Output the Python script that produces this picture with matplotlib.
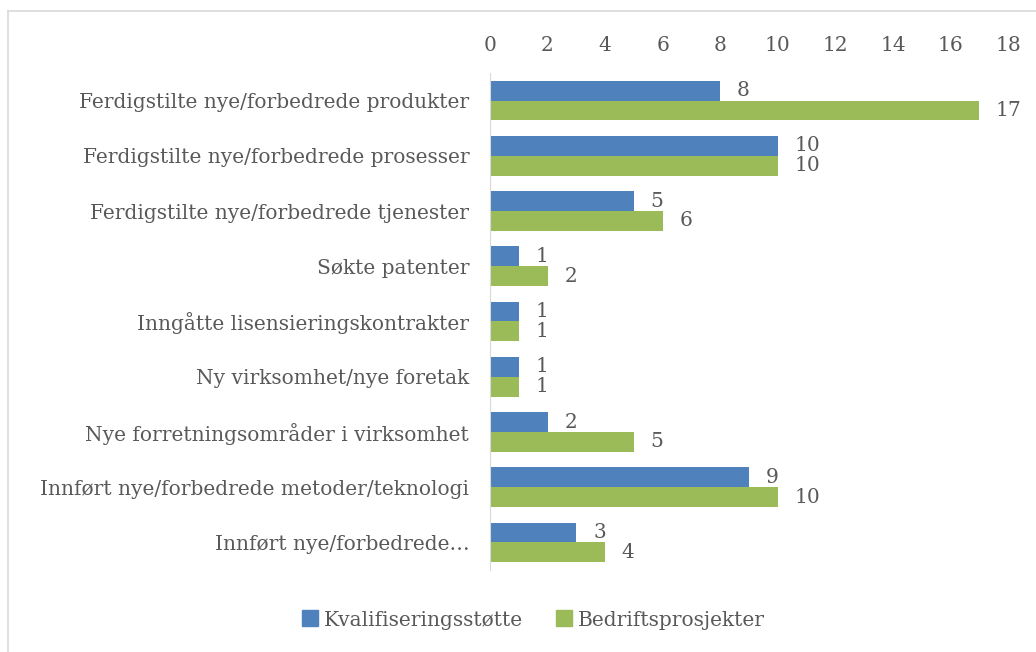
import matplotlib
matplotlib.use("Agg")
import matplotlib.pyplot as plt
from matplotlib.lines import Line2D
import numpy as np

categories = [
    "Ferdigstilte nye/forbedrede produkter",
    "Ferdigstilte nye/forbedrede prosesser",
    "Ferdigstilte nye/forbedrede tjenester",
    "Søkte patenter",
    "Inngåtte lisensieringskontrakter",
    "Ny virksomhet/nye foretak",
    "Nye forretningsområder i virksomhet",
    "Innført nye/forbedrede metoder/teknologi",
    "Innført nye/forbedrede…",
]
kvalifisering = [8, 10, 5, 1, 1, 1, 2, 9, 3]
bedrift = [17, 10, 6, 2, 1, 1, 5, 10, 4]
series_names = ["Kvalifiseringsstøtte", "Bedriftsprosjekter"]
xticks = list(range(0, 19, 2))

BLUE = "#4F81BD"
GREEN = "#9BBB59"
TXT = "#595959"
FS = 14.5
plt.rcParams["font.family"] = ["DejaVu Serif"]

W, H = 1036, 652
fig = plt.figure(figsize=(W / 100, H / 100), dpi=100)
ax = fig.add_axes([490 / W, 1 - 570 / H, (1008 - 490) / W, (570 - 73) / H])

y = np.arange(len(categories))
bh = 0.36
b1 = ax.barh(y - bh / 2, kvalifisering, height=bh, color=BLUE, label=series_names[0])
b2 = ax.barh(y + bh / 2, bedrift, height=bh, color=GREEN, label=series_names[1])

for bars, vals in ((b1, kvalifisering), (b2, bedrift)):
    for rect, v in zip(bars, vals):
        ax.text(v + 0.58, rect.get_y() + rect.get_height() / 2, str(v),
                ha="left", va="center", fontsize=FS, color=TXT)

ax.set_xlim(0, 18)
ax.set_ylim(len(categories) - 0.5, -0.5)
ax.set_xticks(xticks)
ax.xaxis.tick_top()
ax.set_yticks(y)
ax.set_yticklabels(categories)
ax.tick_params(axis="both", length=0, colors=TXT, labelsize=FS)
ax.tick_params(axis="x", pad=13)
ax.tick_params(axis="y", pad=15)
for s in ("top", "right", "bottom"):
    ax.spines[s].set_visible(False)
ax.spines["left"].set_color("#d9d9d9")

handles = [Line2D([], [], marker="s", linestyle="none", markersize=11, color=c)
           for c in (BLUE, GREEN)]
fig.legend(handles, series_names, loc="center", bbox_to_anchor=(0.515, 1 - 620 / H),
           ncol=2, frameon=False, fontsize=FS, labelcolor=TXT,
           handlelength=0.8, handletextpad=0.3, columnspacing=1.6)

# outer chart border
fig.add_artist(Line2D([8 / W, 8 / W], [0, 1 - 11 / H], color="#d9d9d9", lw=1.2))
fig.add_artist(Line2D([8 / W, 1], [1 - 11 / H, 1 - 11 / H], color="#d9d9d9", lw=1.2))

fig.savefig("out.png", dpi=100)
